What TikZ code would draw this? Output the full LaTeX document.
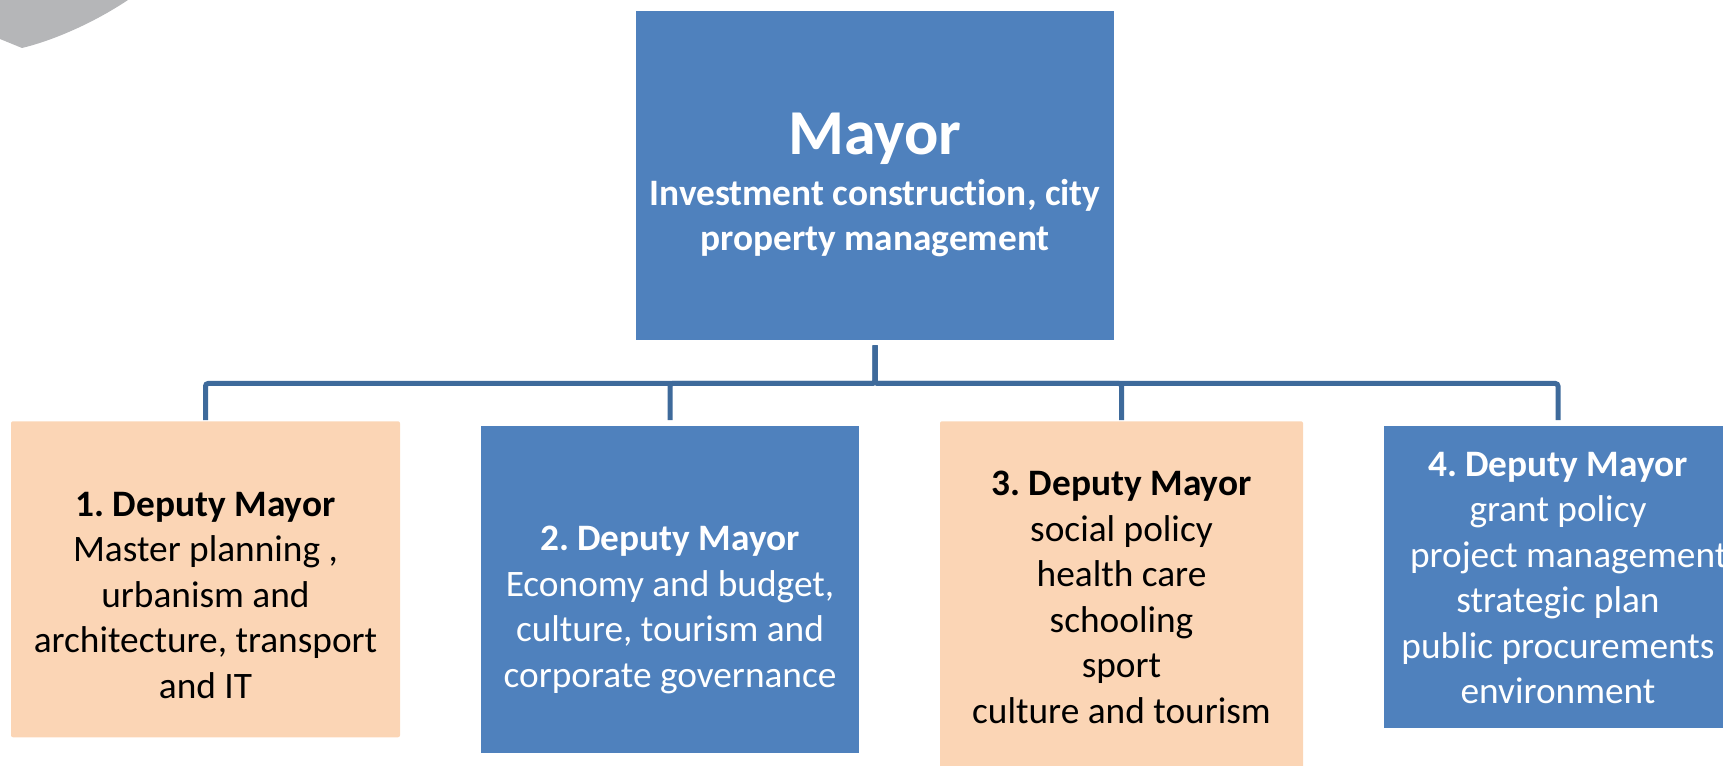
\documentclass[tikz,border=0pt]{standalone}
\usepackage{fontspec}
\setmainfont{Carlito}[Ligatures=NoCommon]
\frenchspacing
\definecolor{boxblue}{HTML}{4F81BD}
\definecolor{boxpeach}{HTML}{FBD5B5}
\definecolor{linkblue}{HTML}{3E6A9B}
\definecolor{swoosh}{HTML}{B5B6B8}

\begin{document}
\begin{tikzpicture}[x=0.75pt,y=-0.75pt,
        deputy/.style={inner sep=0pt,align=center,font=\fontsize{28}{34.1}\selectfont},
        bluebox/.style={deputy,fill=boxblue,text=white},
        peachbox/.style={deputy,fill=boxpeach,text=black,rounded corners=1.5pt},
        link/.style={linkblue,line width=3.75pt,rounded corners=2pt}]
            \useasboundingbox (0,0) rectangle (1723,766);
            \clip (0,0) rectangle (1723,766);
            \fill[swoosh] (0,0) -- (128,0) .. controls (95,22) and (55,40) .. (22,48) -- (0,39) -- cycle;

            \node[bluebox,anchor=north,minimum width=358.5pt,text height=179.5pt,text depth=67.2pt,
                font=\bfseries\fontsize{28}{34.1}\selectfont] (mayor) at (875,11)
                {{\fontsize{48}{58}\selectfont Mayor}\\[4pt]Investment construction, city\\property management};
            \node[peachbox,anchor=north,minimum width=291.75pt,text height=207.75pt,text depth=29.25pt] (dep1) at (205.5,421)
                {\textbf{1. Deputy Mayor}\\Master planning ,\\urbanism and\\architecture, transport\\and IT};
            \node[bluebox,anchor=north,minimum width=283.5pt,text height=195.75pt,text depth=49.5pt] (dep2) at (670,426)
                {\textbf{2. Deputy Mayor}\\Economy and budget,\\culture, tourism and\\corporate governance};
            \node[peachbox,anchor=north,minimum width=272.25pt,text height=226.5pt,text depth=42.75pt] (dep3) at (1121.5,421)
                {\textbf{3. Deputy Mayor}\\social policy\\health care\\schooling\\sport\\culture and tourism};
            \node[bluebox,anchor=north,minimum width=261pt,text height=208.1pt,text depth=18.4pt] (dep4) at (1558,426)
                {\textbf{4. Deputy Mayor}\\grant policy\\\hspace*{16pt}project management\\strategic plan\\public procurements\\environment};

            \draw[link,shorten <=3.75pt,shorten >=0.75pt] (mayor.south) -- ++(0,43) -| (dep1.north);
            \draw[link,shorten <=3.75pt,shorten >=4.5pt] (mayor.south) -- ++(0,43) -| (dep2.north);
            \draw[link,shorten <=3.75pt,shorten >=0.75pt] (mayor.south) -- ++(0,43) -| (dep3.north);
            \draw[link,shorten <=3.75pt,shorten >=4.5pt] (mayor.south) -- ++(0,43) -| (dep4.north);
        \end{tikzpicture}
\end{document}
